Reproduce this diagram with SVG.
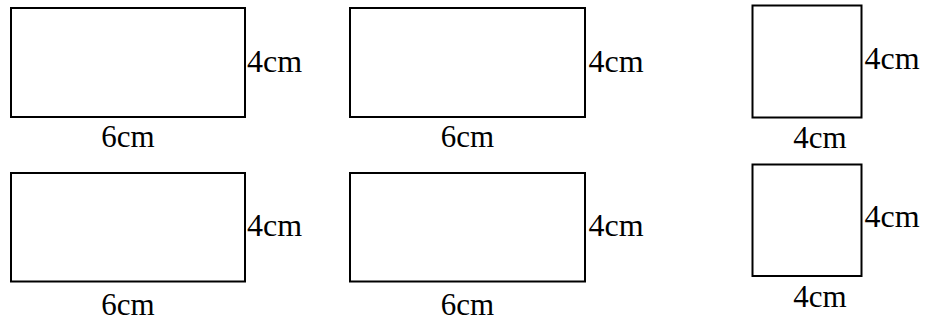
<svg xmlns="http://www.w3.org/2000/svg" width="925" height="322" viewBox="0 0 925 322">
<style>
.box{fill:#fff;stroke:#000;stroke-width:2}
text{font-family:"Liberation Serif","Times New Roman",serif;fill:#000}
.s{font-size:32px}
.b{font-size:31px;text-anchor:middle}
</style>
<rect width="925" height="322" fill="#fff"/>
<g id="rect1">
<rect class="box" x="11" y="8" width="234" height="109"/>
<text class="s" x="247" y="72">4cm</text>
<text class="b" x="128" y="146.5">6cm</text>
</g>
<g id="rect2">
<rect class="box" x="350" y="8" width="235" height="109"/>
<text class="s" x="588.5" y="72">4cm</text>
<text class="b" x="467.5" y="146.5">6cm</text>
</g>
<g id="square1">
<rect class="box" x="752.5" y="5.5" width="109" height="112"/>
<text class="s" x="864.5" y="68.5">4cm</text>
<text class="b" x="820" y="147.5">4cm</text>
</g>
<g id="rect3">
<rect class="box" x="11" y="173" width="234" height="108.5"/>
<text class="s" x="247" y="236">4cm</text>
<text class="b" x="128" y="315">6cm</text>
</g>
<g id="rect4">
<rect class="box" x="350" y="173" width="235" height="108.5"/>
<text class="s" x="588.5" y="236">4cm</text>
<text class="b" x="467.5" y="315">6cm</text>
</g>
<g id="square2">
<rect class="box" x="752.5" y="164.5" width="109" height="111.5"/>
<text class="s" x="864.5" y="226.5">4cm</text>
<text class="b" x="820" y="307">4cm</text>
</g>
<g id="connectors"/>
</svg>
